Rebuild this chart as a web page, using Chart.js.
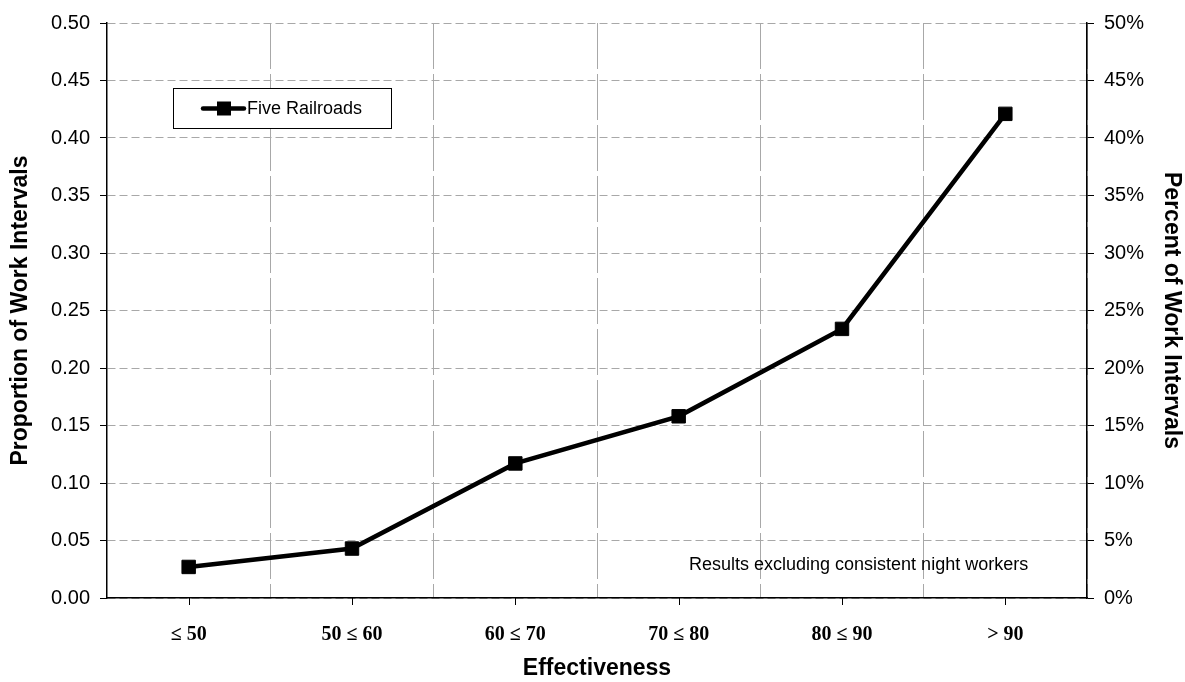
<!DOCTYPE html>
<html>
<head>
<meta charset="utf-8">
<script src="https://cdn.jsdelivr.net/npm/chart.js@4/dist/chart.umd.min.js"></script>
<style>
html,body{margin:0;padding:0;background:#fff;}
#wrap{width:1185px;height:682px;position:relative;}
</style>
</head>
<body>
<div id="wrap"><canvas id="c"></canvas></div>
<script>
const categories = ['≤ 50', '50 ≤ 60', '60 ≤ 70', '70 ≤ 80', '80 ≤ 90', '> 90'];
const fiveRailroads = [0.027, 0.043, 0.117, 0.158, 0.234, 0.421];
const seriesName = 'Five Railroads';
const yMin = 0, yMax = 0.5, yStep = 0.05;
const leftTitle = 'Proportion of Work Intervals';
const rightTitle = 'Percent of Work Intervals';
const xTitle = 'Effectiveness';
const note = 'Results excluding consistent night workers';

const SANS = 'Arial, "Liberation Sans", Helvetica, sans-serif';
const SERIF = '"Times New Roman", "Liberation Serif", serif';

const overlay = {
  id: 'overlay',
  afterDraw(chart) {
    const ctx = chart.ctx;
    const x = chart.scales.x;
    const area = chart.chartArea;
    ctx.save();
    // center tick marks below x axis
    ctx.strokeStyle = '#000';
    ctx.lineWidth = 1;
    for (let i = 0; i < categories.length; i++) {
      const px = Math.round(x.getPixelForValue(i)) + 0.5;
      ctx.beginPath();
      ctx.moveTo(px, area.bottom);
      ctx.lineTo(px, area.bottom + 7);
      ctx.stroke();
    }
    // legend box
    ctx.fillStyle = '#fff';
    ctx.fillRect(173.5, 88.5, 218, 40);
    ctx.strokeStyle = '#000';
    ctx.lineWidth = 1;
    ctx.strokeRect(173.5, 88.5, 218, 40);
    ctx.lineWidth = 4.5;
    ctx.lineCap = 'round';
    ctx.beginPath();
    ctx.moveTo(203, 108.5);
    ctx.lineTo(244, 108.5);
    ctx.stroke();
    ctx.fillStyle = '#000';
    ctx.fillRect(217, 101.5, 14, 14);
    ctx.font = '18px ' + SANS;
    ctx.textBaseline = 'middle';
    ctx.textAlign = 'left';
    ctx.fillText(seriesName, 247, 109);
    // note
    ctx.font = '18px ' + SANS;
    ctx.fillText(note, 689, 565);
    ctx.restore();
  }
};

new Chart(document.getElementById('c'), {
  type: 'line',
  data: {
    labels: categories,
    datasets: [{
      label: seriesName,
      data: fiveRailroads,
      borderColor: '#000',
      backgroundColor: '#000',
      borderWidth: 4.5,
      tension: 0,
      pointStyle: 'rect',
      pointRadius: 9.5,
      pointHoverRadius: 9.5,
      pointBorderWidth: 1,
      pointBackgroundColor: '#000',
      pointBorderColor: '#000',
      yAxisID: 'y'
    }]
  },
  options: {
    responsive: true,
    maintainAspectRatio: false,
    animation: false,
    events: [],
    layout: { padding: { top: 23, left: 0, right: 0, bottom: 0 } },
    plugins: { legend: { display: false }, tooltip: { enabled: false } },
    scales: {
      x: {
        type: 'category',
        offset: true,
        grid: {
          offset: true,
          color: '#a8a8a8',
          lineWidth: 1,
          drawTicks: false
        },
        border: { display: true, color: '#000', width: 1.5, dash: [46, 5] },
        ticks: {
          color: '#000',
          padding: 25,
          font: { family: SERIF, size: 20, weight: 'bold' },
          maxRotation: 0
        },
        title: {
          display: true,
          text: xTitle,
          color: '#000',
          font: { family: SANS, size: 23, weight: 'bold' },
          padding: { top: 0, bottom: 0 }
        },
        afterFit(s) { s.height = 84; }
      },
      y: {
        position: 'left',
        min: yMin, max: yMax,
        grid: {
          color: '#a8a8a8',
          lineWidth: 1,
          tickLength: 7,
          tickColor: '#000',
          tickBorderDash: [],
          tickWidth: 1
        },
        border: { display: true, color: '#000', width: 1.5, dash: [8, 4] },
        ticks: {
          stepSize: yStep,
          color: '#000',
          padding: 10,
          font: { family: SANS, size: 20 },
          callback: v => Number(v).toFixed(2)
        },
        title: {
          display: true,
          text: leftTitle,
          color: '#000',
          font: { family: SANS, size: 23, weight: 'bold' },
          padding: { top: 7, bottom: 0 }
        },
        afterFit(s) { s.width = 107; }
      },
      y1: {
        position: 'right',
        min: yMin, max: yMax,
        grid: {
          drawOnChartArea: false,
          tickLength: 7,
          tickColor: '#000',
          tickBorderDash: [],
          tickWidth: 1
        },
        border: { display: true, color: '#000', width: 1.5 },
        ticks: {
          stepSize: yStep,
          color: '#000',
          padding: 10,
          font: { family: SANS, size: 20 },
          callback: v => Math.round(v * 100) + '%'
        },
        title: {
          display: true,
          text: rightTitle,
          color: '#000',
          font: { family: SANS, size: 23, weight: 'bold' },
          padding: { top: 0, bottom: 0 }
        },
        afterFit(s) { s.width = 98; }
      }
    }
  },
  plugins: [overlay]
});
</script>
</body>
</html>
